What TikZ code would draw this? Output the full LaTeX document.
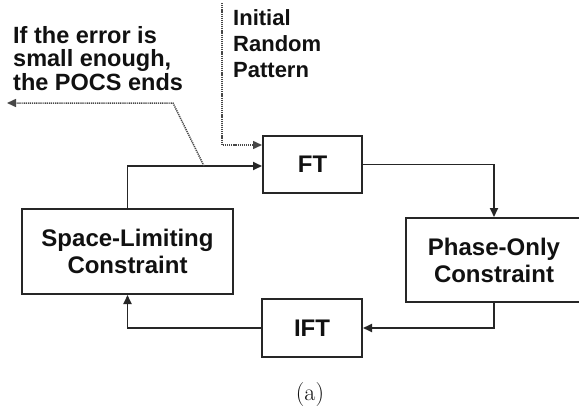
\documentclass[tikz,border=0pt]{standalone}
\usepackage{fontspec}
\setmainfont{Liberation Sans}
\newfontfamily\lmfont{Latin Modern Roman}
\usetikzlibrary{arrows.meta,calc}
\definecolor{ln}{HTML}{262626}
\definecolor{tx}{HTML}{111111}
\tikzset{
  blk/.style={draw=ln, line width=2pt, rectangle, inner sep=0pt, minimum width=#1, text=tx,
    font=\bfseries\fontsize{24}{27}\selectfont, align=center},
  arr/.style={draw=ln, line width=1.8pt, -{Triangle[length=9pt,width=8pt]}},
  dotarr/.style={draw=ln!85, line width=1.5pt, dash pattern=on 1.2pt off 0.9pt, -{Triangle[length=9pt,width=8pt]}},
  lbl/.style={inner sep=0pt, align=left, text=tx, anchor=west}
}
\begin{document}
\begin{tikzpicture}[x=1pt,y=-1pt]
\useasboundingbox (0,0) rectangle (579,415);
\clip (0,0) rectangle (579,415);
\fill[white] (0,0) rectangle (579,415);
% boxes
\node[blk=99pt, minimum height=57pt] (ft) at (312.5,164.5) {FT};
\node[blk=211pt, minimum height=85pt] (slc) at (127.5,251.5) {Space-Limiting\\Constraint};
\node[blk=176pt, minimum height=84pt] (poc) at (494,260) {Phase-Only\\Constraint};
\node[blk=100pt, minimum height=58pt] (ift) at (312,328) {IFT};
% labels
\node[lbl, font=\bfseries\fontsize{23.5}{23.5}\selectfont] (err) at (13,58.5) {If the error is\\small enough,\\the POCS ends};
\node[lbl, font=\bfseries\fontsize{22}{26}\selectfont] (irp) at (233,44) {Initial\\Random\\Pattern};
\node[inner sep=0pt, text=tx, font=\lmfont\fontsize{24}{26}\selectfont] (cap) at (310,395) {(a)};
% coordinates
\coordinate (src) at (222,3);
\coordinate (dy) at (0,145);
\coordinate (iny) at (0,166);
\coordinate (j) at (204,166);
\coordinate (k) at (173,103);
\coordinate (e) at (7,103);
% connectors
\draw[arr] (slc.north) |- (ft.west |- iny);
\draw[dotarr] (src) |- (ft.west |- dy);
\draw[dotarr] (j) -- (k) -- (e);
\draw[arr] (ft.east) -| (poc.north);
\draw[arr] (poc.south) |- (ift.east);
\draw[arr] (ift.west) -| (slc.south);
\end{tikzpicture}
\end{document}
